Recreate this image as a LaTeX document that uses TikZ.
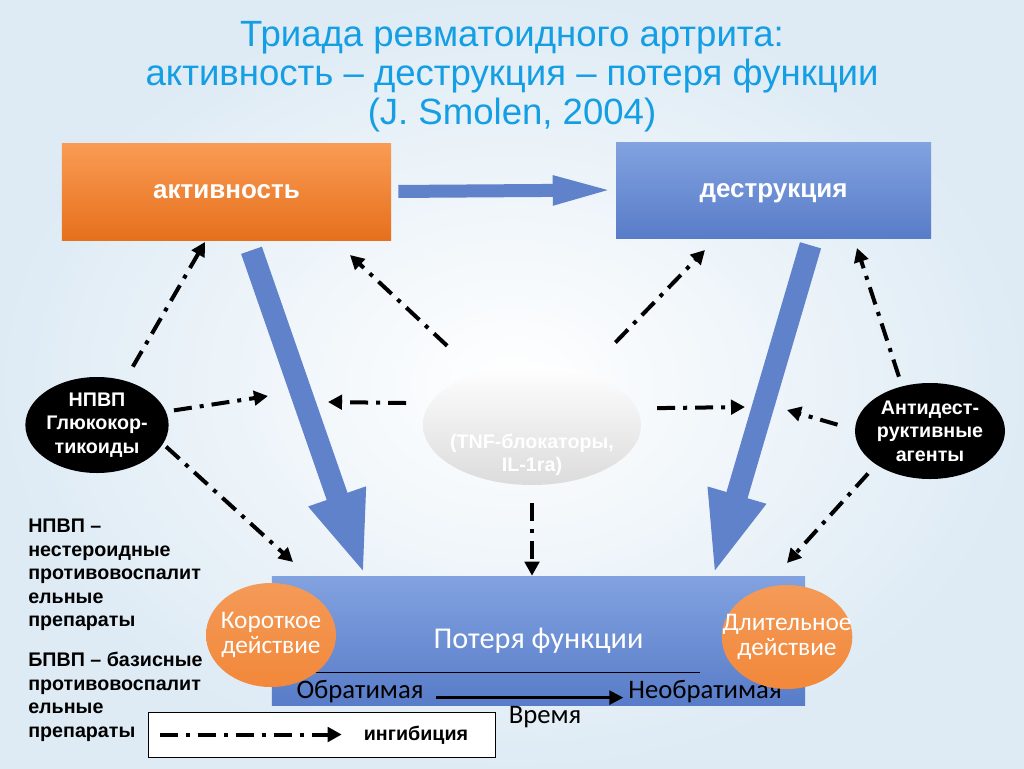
\documentclass[tikz,border=0pt]{standalone}
\usepackage{fontspec}
\setmainfont{Liberation Sans}
\newfontfamily\calib{Carlito}
\usetikzlibrary{arrows.meta, shapes.geometric, calc}
\definecolor{bgblue}{RGB}{214,230,242}
\definecolor{titleblue}{RGB}{20,158,228}
\definecolor{orgtop}{RGB}{250,155,85}
\definecolor{orgbot}{RGB}{230,112,28}
\definecolor{bltop}{RGB}{130,162,224}
\definecolor{blbot}{RGB}{88,124,200}
\definecolor{fatblue}{RGB}{96,130,202}
\definecolor{circorg}{RGB}{242,136,58}
\tikzset{>=latex}
\tikzset{box/.style={rectangle, inner sep=0pt, text=white, text height=13pt, text depth=3pt, font=\bfseries\fontsize{18.5}{22}\selectfont}}
\tikzset{drug/.style={ellipse, fill=black, inner sep=0pt, minimum width=35mm, minimum height=24mm, text=white, align=center, font=\bfseries\fontsize{14}{16.6}\selectfont}}
\tikzset{term/.style={ellipse, inner xsep=-13pt, inner ysep=0pt, minimum width=32.5mm, minimum height=26mm, top color=circorg!85!white, bottom color=circorg, text=white, align=center, font=\calib\fontsize{18}{17.3}\selectfont}}
\tikzset{fat/.style={fatblue, line width=5.5mm, -{Triangle[length=21mm, width=13.5mm]}}}
\tikzset{inhib/.style={black, line width=1mm, dash pattern=on 4.5mm off 2mm on 1mm off 2mm, -{Triangle[length=3.5mm, width=3.6mm]}}}
\tikzset{note/.style={anchor=north west, align=left, inner sep=0pt, font=\bfseries\fontsize{14}{16.7}\selectfont}}
\tikzset{tline/.style={font=\calib\fontsize{19}{22}\selectfont}}

\begin{document}
\begin{tikzpicture}[x=0.25mm, y=-0.25mm]

	% Background
	\shade[inner color=white, outer color=bgblue!80!white] (0,0) rectangle (1024,768);

	% Title
	\node[align=center, text=titleblue, font=\fontsize{26}{27.7}\selectfont] (title) at (512,77)
		{Триада ревматоидного артрита:\\активность – деструкция – потеря функции\\(J. Smolen, 2004)};

	% Main Boxes
	\node[box, minimum width=82.25mm, minimum height=24.25mm, top color=orgtop, bottom color=orgbot] (act) at (226.5,191.5) {активность};
	\node[box, minimum width=78.75mm, minimum height=24mm, top color=bltop, bottom color=blbot] (destr) at (773.5,190) {деструкция};
	\node[box, minimum width=133.25mm, minimum height=32.25mm, top color=bltop, bottom color=blbot,
		font=\calib\fontsize{21.5}{24}\selectfont, text height=15pt, text depth=4pt] (loss) at (538.5,640.5) {Потеря функции};

	% Fat Arrows
	\draw[fatblue, line width=3.25mm, -{Triangle[length=15.75mm, width=6.5mm]}, shorten <=1.75mm] (act.east) -- (destr.west);
	\draw[fat] ([shift={(25,10)}]act.south) -- ([shift={(93,0)}]loss.north west);
	\draw[fat] ([shift={(37,7)}]destr.south) -- ([shift={(-92,0)}]loss.north east);

	% Time Line
	\draw[black, thin] ($(loss.south west)+(40,-33)$) -- ($(loss.south west)+(428,-33)$);
	\node[tline] (rev) at (360,692) {Обратимая};
	\node[tline] (irrev) at (705,692) {Необратимая};
	\draw[line width=0.9mm, -{Triangle[length=3.5mm, width=3.4mm]}, shorten <=2mm] ([yshift=-4]rev.east) -- ([yshift=-4]irrev.west);
	\node[tline] (time) at (545,717) {Время};

	% Short and Long Action
	\node[term] (short) at (271,635) {Короткое\\действие};
	\node[term] (long) at (787,637) {Длительное\\действие};

	% Drug Groups
	\node[drug] (npvp) at (97,425) {НПВП\\Глюкокор-\\тикоиды};
	\node[drug] (antid) at (930,431) {Антидест-\\руктивные\\агенты};
	\node[ellipse, inner sep=0pt, minimum width=54.5mm, minimum height=30mm, top color=white, bottom color=black!14] (tnf) at (532,425) {};
	\node[text=white, align=center, font=\bfseries\fontsize{14}{16.6}\selectfont] (tnftext) at (532,455) {(TNF-блокаторы,\\IL-1ra)};

	% Inhibition Arrows
	\coordinate (cA) at (205,242);
	\coordinate (cB) at (268,396);
	\coordinate (cC) at (293,562);
	\coordinate (cD) at (350,255);
	\coordinate (cE) at (328,402);
	\coordinate (cF) at (705,250);
	\coordinate (cG) at (745,407);
	\coordinate (cH) at (857,248);
	\coordinate (cI) at (787,410);
	\coordinate (cJ) at (787,563);
	\draw[inhib, shorten <=4mm] (npvp.58) -- (cA);
	\draw[inhib, shorten <=2mm] (npvp.11) -- (cB);
	\draw[inhib, shorten <=1mm] (npvp.-16) -- (cC);
	\draw[inhib, shorten <=10mm] (tnf.137) -- (cD);
	\draw[inhib, shorten <=6mm] (tnf.168) -- (cE);
	\draw[inhib, shorten <=10.5mm] (tnf.44) -- (cF);
	\draw[inhib, shorten <=5mm] (tnf.9) -- (cG);
	\draw[inhib, shorten <=4.5mm] (tnf.south) -- (tnf.south |- loss.north);
	\draw[inhib, shorten <=2.5mm] (antid.122) -- (cH);
	\draw[inhib, shorten <=4.5mm] (antid.179) -- (cI);
	\draw[inhib, shorten <=3mm] (antid.212) -- (cJ);

	% Notes
	\node[note] (note1) at (28,519) {НПВП –\\нестероидные\\противовоспалит\\ельные\\препараты};
	\node[note] (note2) at (28,652) {БПВП – базисные\\противовоспалит\\ельные\\препараты};

	% Legend
	\node[draw=black, fill=white, minimum width=86.75mm, minimum height=11.25mm, inner sep=0pt] (legend) at (321.5,734.5) {};
	\draw[inhib] ([xshift=3mm]legend.west) -- ([xshift=48.5mm]legend.west);
	\node[font=\bfseries\fontsize{14}{16}\selectfont] (inhtext) at (416,735) {ингибиция};

\end{tikzpicture}
\end{document}
